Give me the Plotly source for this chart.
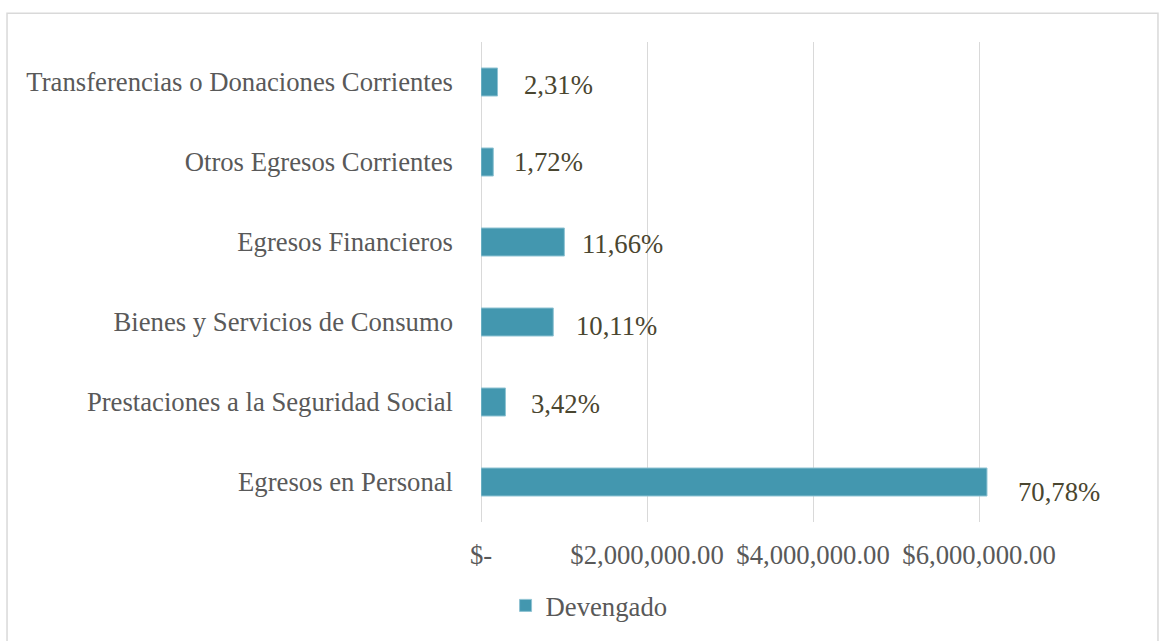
import plotly.graph_objects as go

# Budget execution by expense group (bottom to top)
categories = [
    "Egresos en Personal",
    "Prestaciones a la Seguridad Social",
    "Bienes y Servicios de Consumo",
    "Egresos Financieros",
    "Otros Egresos Corrientes",
    "Transferencias o Donaciones Corrientes",
]
devengado = [6096000, 294600, 870800, 1004300, 148100, 199000]
share_labels = ["70,78%", "3,42%", "10,11%", "11,66%", "1,72%", "2,31%"]

tick_values = [0, 2000000, 4000000, 6000000]
tick_labels = ["$-", "$2,000,000.00", "$4,000,000.00", "$6,000,000.00"]

# pixel nudges for the percentage labels
label_dx = [29, 24, 21, 16, 19, 24]
label_dy = [-10, -2, -4, -2, 0, -3]

FONT = "Liberation Serif"
SIZE = 26.7
BAR = "#4397AF"
GRID = "#D9D9D9"

fig = go.Figure()
fig.add_trace(go.Bar(
    y=categories,
    x=devengado,
    orientation="h",
    name="Devengado",
    marker=dict(color=BAR, line=dict(color="#8FC3D3", width=1)),
    hoverinfo="x+y",
))

for cat, val, lab, dx, dy in zip(categories, devengado, share_labels, label_dx, label_dy):
    fig.add_annotation(
        x=val, y=cat, text=lab, showarrow=False,
        xanchor="left", yanchor="middle", xshift=dx, yshift=dy,
        font=dict(family=FONT, size=SIZE, color="#4A4630"),
    )

# light frame around the whole chart
fig.add_shape(
    type="rect", xref="paper", yref="paper",
    x0=-0.8158, x1=1.1652, y0=-0.26, y1=1.060,
    line=dict(color=GRID, width=1.5), fillcolor="rgba(0,0,0,0)", layer="below",
)

fig.update_layout(
    width=1160, height=641,
    margin=dict(l=481, r=98, t=42, b=116),
    paper_bgcolor="white", plot_bgcolor="white",
    bargap=0.65,
    font=dict(family=FONT, size=SIZE, color="#595959"),
    showlegend=True,
    legend=dict(
        orientation="h", x=0.186, y=-0.174, xanchor="center", yanchor="middle",
        font=dict(family=FONT, size=SIZE, color="#595959"),
        itemwidth=30, bgcolor="rgba(0,0,0,0)",
    ),
    xaxis=dict(
        range=[0, 7000000], tickvals=tick_values, ticktext=tick_labels,
        showgrid=True, gridcolor=GRID, gridwidth=1.3,
        zeroline=True, zerolinecolor=GRID, zerolinewidth=1.3,
        showline=False, ticks="", ticklabelstandoff=14,
        tickfont=dict(family=FONT, size=SIZE, color="#595959"),
        fixedrange=True,
    ),
    yaxis=dict(
        type="category", categoryorder="array", categoryarray=categories,
        showgrid=False, zeroline=False, showline=False, ticks="",
        ticklabelstandoff=27,
        tickfont=dict(family=FONT, size=SIZE, color="#595959"),
        fixedrange=True,
    ),
)

fig.write_html("out.html")
